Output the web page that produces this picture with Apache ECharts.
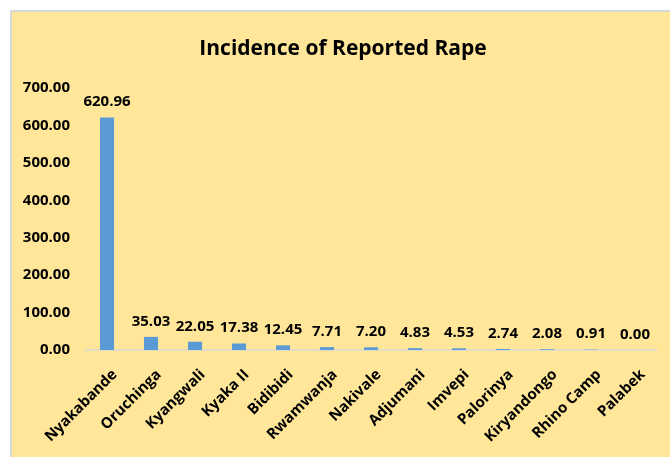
<!DOCTYPE html>
<html>
<head>
<meta charset="utf-8">
<script src="https://cdn.jsdelivr.net/npm/echarts@6/dist/echarts.min.js"></script>
<style>
html, body { margin: 0; padding: 0; background: #fff; width: 670px; height: 457px; overflow: hidden; }
#chart {
    position: absolute;
    left: 10px;
    top: 10px;
    width: 662px;
    height: 449px;
    border-left: 2px solid #d9d9d9;
    border-top: 2px solid #d9d9d9;
    background: #ffe699;
}
</style>
</head>
<body>
<div id="chart"></div>
<script>
// settlements and reported rape incidence
const categories = ["Nyakabande", "Oruchinga", "Kyangwali", "Kyaka II", "Bidibidi", "Rwamwanja",
    "Nakivale", "Adjumani", "Imvepi", "Palorinya", "Kiryandongo", "Rhino Camp", "Palabek"]
const values = [620.96, 35.03, 22.05, 17.38, 12.45, 7.71, 7.20, 4.83, 4.53, 2.74, 2.08, 0.91, 0.00]

const font = "'Open Sans', sans-serif"

let myChart = echarts.init(document.getElementById("chart"))
myChart.setOption({
    backgroundColor: "#ffe699",
    animation: false,
    title: {
        text: "Incidence of Reported Rape",
        left: "center",
        top: 22,
        textStyle: {
            fontFamily: font,
            fontSize: 21,
            fontWeight: "bold",
            color: "#000"
        }
    },
    grid: {
        left: 73,
        right: 17,
        top: 76,
        bottom: 111
    },
    xAxis: {
        type: "category",
        data: categories,
        axisLine: { lineStyle: { color: "#d9d9d9", width: 1.5 } },
        axisTick: { show: false },
        axisLabel: {
            rotate: 45,
            interval: 0,
            margin: 30,
            padding: [0, -11, 0, 0],
            fontFamily: font,
            fontSize: 15,
            fontWeight: "bold",
            color: "#000"
        }
    },
    yAxis: {
        type: "value",
        min: 0,
        max: 700,
        interval: 100,
        splitLine: { show: false },
        axisLine: { show: false },
        axisTick: { show: false },
        axisLabel: {
            margin: 15,
            formatter: v => v.toFixed(2),
            fontFamily: font,
            fontSize: 15,
            fontWeight: "bold",
            color: "#000"
        }
    },
    series: [{
        type: "bar",
        data: values,
        barWidth: "32%",
        itemStyle: { color: "#5b9bd5" },
        label: {
            show: true,
            position: "top",
            distance: 8,
            formatter: p => p.value.toFixed(2),
            fontFamily: font,
            fontSize: 15,
            fontWeight: "bold",
            color: "#000"
        }
    }]
})
</script>
</body>
</html>
